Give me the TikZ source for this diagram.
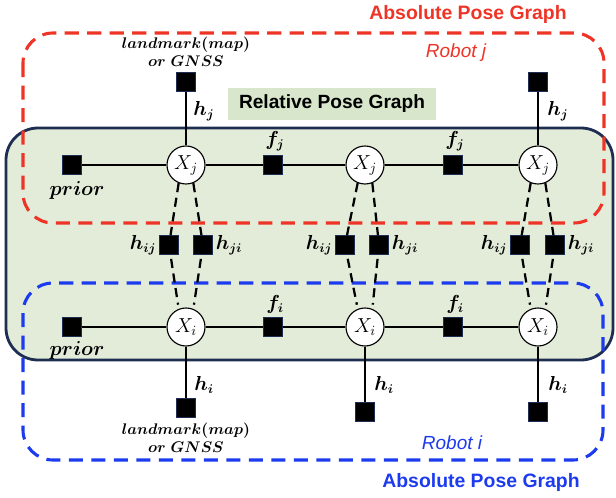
\documentclass[tikz,border=0pt]{standalone}
\usepackage{amsmath,amssymb,bm}
\usepackage{fontspec}
\setsansfont{Liberation Sans}
\usetikzlibrary{positioning}

\definecolor{absred}{RGB}{238,52,38}
\definecolor{absblue}{RGB}{28,58,238}
\definecolor{relnavy}{RGB}{30,46,82}
\definecolor{relgreen}{RGB}{227,236,217}
\definecolor{tagbox}{RGB}{216,230,204}

\begin{document}
\begin{tikzpicture}[
    x=0.025cm, y=-0.025cm,
    pose/.style={circle, draw, thick, fill=white, minimum size=0.95cm, inner sep=0pt, font=\fontsize{14}{16}\selectfont},
    factor/.style={rectangle, fill=black, draw=relnavy, minimum size=0.47cm, inner sep=0pt},
    edge/.style={line width=1.3pt},
    link/.style={line width=1.6pt, dash pattern=on 6.5pt off 4pt, shorten >=3pt, shorten <=3pt},
    lbl/.style={font=\fontsize{13.5}{16}\selectfont\boldmath, inner sep=1pt},
    title/.style={font=\sffamily\bfseries\fontsize{13.8}{16}\selectfont},
    robot/.style={font=\sffamily\itshape\fontsize{13.5}{16}\selectfont},
    region/.style={line width=2.2pt, dash pattern=on 10pt off 6pt, rounded corners=0.75cm},
  ]
    \useasboundingbox (0,0) rectangle (616,498);

    % relative pose graph area
    \draw[relnavy, line width=2pt, fill=relgreen, rounded corners=0.8cm] (6,128) rectangle (613,360);
    \node[fill=tagbox, minimum width=5.2cm, minimum height=0.8cm, font=\sffamily\bfseries\fontsize{13.6}{16}\selectfont] (rel) at (332,104) {Relative Pose Graph};

    % absolute pose graph areas
    \draw[region, absred]  (23,33) rectangle (604,223);
    \draw[region, absblue] (23,283) rectangle (603,460);
    \node[title, text=absred]  (absj) at (468,14)  {Absolute Pose Graph};
    \node[title, text=absblue] (absi) at (481,482) {Absolute Pose Graph};
    \node[robot, text=absred]  (robj) at (456,53)  {Robot j};
    \node[robot, text=absblue] (robi) at (452,443) {Robot i};

    % robot j
    \node[factor] (pj)  at (72,165)  {};
    \node[pose]   (xj1) at (186,165) {$X_j$};
    \node[factor] (fj1) at (273,165) {};
    \node[pose]   (xj2) at (365,165) {$X_j$};
    \node[factor] (fj2) at (453,165) {};
    \node[pose]   (xj3) at (538,165) {$X_j$};
    \node[factor] (lj1) at (186,82)  {};
    \node[factor] (lj3) at (538,82)  {};

    % robot i
    \node[factor] (pi)  at (72,327)  {};
    \node[pose]   (xi1) at (186,327) {$X_i$};
    \node[factor] (fi1) at (273,327) {};
    \node[pose]   (xi2) at (365,327) {$X_i$};
    \node[factor] (fi2) at (453,327) {};
    \node[pose]   (xi3) at (538,327) {$X_i$};
    \node[factor] (li1) at (186,408) {};
    \node[factor] (li2) at (365,412) {};
    \node[factor] (li3) at (538,412) {};

    % inter-robot factors
    \node[factor] (hij1) at (169,245) {};
    \node[factor] (hji1) at (203,245) {};
    \node[factor] (hij2) at (345,245) {};
    \node[factor] (hji2) at (379,245) {};
    \node[factor] (hij3) at (520,245) {};
    \node[factor] (hji3) at (555,245) {};

    \draw[edge] (pj) -- (xj1) -- (fj1) -- (xj2) -- (fj2) -- (xj3);
    \draw[edge] (pi) -- (xi1) -- (fi1) -- (xi2) -- (fi2) -- (xi3);
    \draw[edge] (lj1) -- (xj1);
    \draw[edge] (lj3) -- (xj3);
    \draw[edge] (xi1) -- (li1);
    \draw[edge] (xi2) -- (li2);
    \draw[edge] (xi3) -- (li3);

    \foreach \k in {1,2,3} {
      \draw[link] (xj\k.248) -- (hij\k) -- (xi\k.112);
      \draw[link] (xj\k.292) -- (hji\k) -- (xi\k.68);
      \node[lbl, left=1pt of hij\k]  {$h_{ij}$};
      \node[lbl, right=1pt of hji\k] {$h_{ji}$};
    }

    % labels
    \node[lbl] (priorj) at (77,190) {$prior$};
    \node[lbl] (priori) at (77,350) {$prior$};
    \node[lbl] at (275,141) {$f_j$};
    \node[lbl] at (455,141) {$f_j$};
    \node[lbl] at (275,304) {$f_i$};
    \node[lbl] at (455,304) {$f_i$};
    \node[lbl] at (204,111) {$h_j$};
    \node[lbl] at (558,111) {$h_j$};
    \node[lbl] at (204,385) {$h_i$};
    \node[lbl] at (384,385) {$h_i$};
    \node[lbl] at (558,385) {$h_i$};
    \node[lbl, font=\fontsize{10.5}{12}\selectfont\boldmath, align=center] (mapj) at (186,52) {$landmark(map)$\\[1pt]$or\ GNSS$};
    \node[lbl, font=\fontsize{10.5}{12}\selectfont\boldmath, align=center] (mapi) at (186,438) {$landmark(map)$\\[1pt]$or\ GNSS$};
\end{tikzpicture}
\end{document}
